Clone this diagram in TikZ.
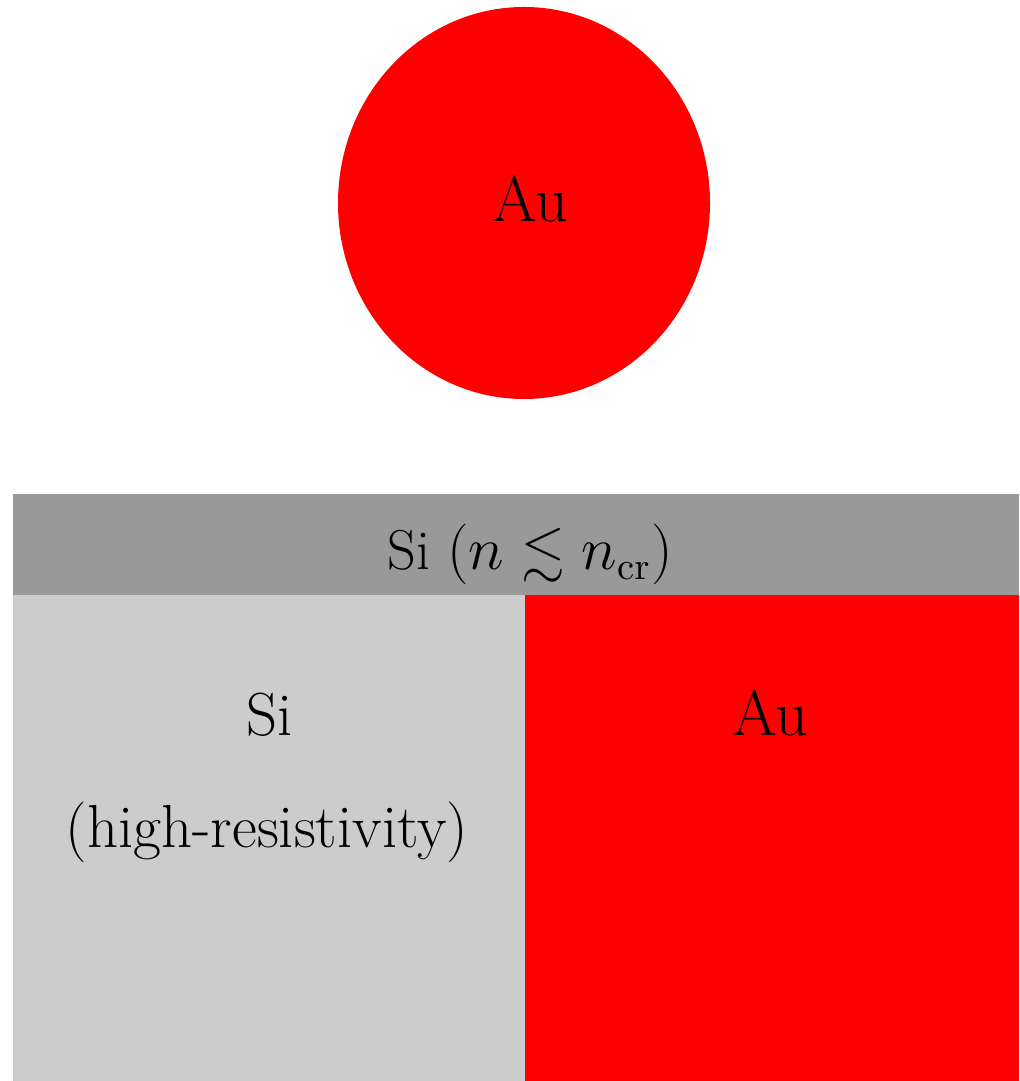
\documentclass[tikz,border=0pt]{standalone}
\usepackage{amsmath}
\usepackage{amssymb}
\usepackage{tikz}
\definecolor{goldred}{RGB}{255,0,0}
\definecolor{sidark}{RGB}{153,153,153}
\definecolor{silight}{RGB}{204,204,204}

\begin{document}
\begin{tikzpicture}[
    lbl/.style={anchor=base, inner sep=0pt, font=\fontsize{17.3}{20}\selectfont},
    biglbl/.style={lbl, font=\fontsize{18.3}{22}\selectfont},
    smalllbl/.style={lbl, font=\fontsize{16}{19}\selectfont}
  ]
  \useasboundingbox (0,0) rectangle (10.19,-10.81);
  % Au particle
  \fill[goldred] (5.24,-2.03) ellipse [x radius=1.86, y radius=1.96];
  \node[biglbl] (auball) at (5.30,-2.22) {Au};
  % Si layer on top
  \fill[sidark] (0.13,-4.94) rectangle (10.19,-5.95);
  \node[smalllbl] (silayer) at (5.30,-5.70) {Si $(n \lesssim n_{\mathrm{cr}})$};
  % high-resistivity Si and Au below
  \fill[silight] (0.13,-5.95) rectangle (5.25,-10.81);
  \fill[goldred] (5.25,-5.95) rectangle (10.19,-10.81);
  \node[lbl] (sibulk) at (2.70,-7.35) {Si};
  \node[lbl] (sinote) at (2.67,-8.47) {(high-resistivity)};
  \node[biglbl] (aubulk) at (7.70,-7.35) {Au};
\end{tikzpicture}
\end{document}
